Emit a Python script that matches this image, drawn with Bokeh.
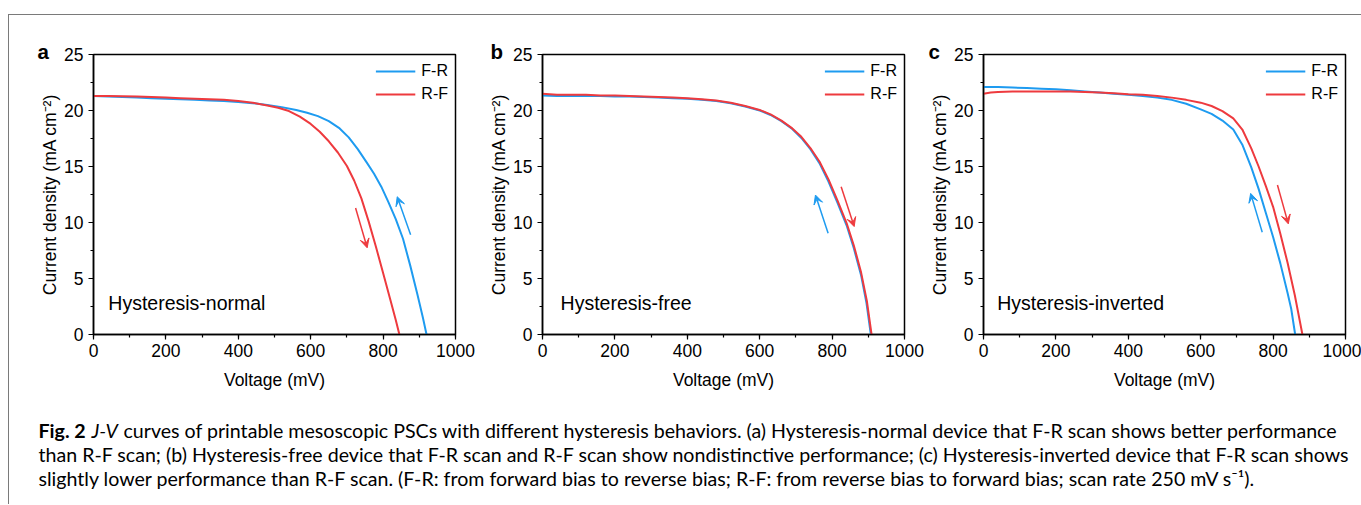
from bokeh.plotting import figure
from bokeh.layouts import row, column
from bokeh.models import (Range1d, SingleIntervalTicker, Legend, LegendItem, Label,
                          Arrow, VeeHead)
from bokeh.embed import file_html
from bokeh.resources import INLINE
from bokeh.core.properties import value

# ---------------- data ----------------
series_names = ["F-R", "R-F"]

# panel a : hysteresis-normal
a_fr_v = [0, 40, 80, 120, 160, 200, 240, 280, 320, 360, 400, 440, 480, 520, 560, 590, 620, 650, 680, 705, 730, 755, 775, 795, 815, 835, 855, 875, 895, 910, 920]
a_fr_j = [21.3, 21.25, 21.2, 21.15, 21.1, 21.05, 21.0, 20.95, 20.9, 20.85, 20.75, 20.65, 20.5, 20.3, 20.05, 19.8, 19.5, 19.05, 18.4, 17.6, 16.55, 15.35, 14.35, 13.2, 11.8, 10.3, 8.55, 6.15, 3.55, 1.5, 0.0]
a_rf_v = [0, 40, 80, 120, 160, 200, 240, 280, 320, 360, 400, 440, 480, 510, 540, 570, 600, 625, 650, 675, 700, 720, 740, 760, 780, 800, 820, 835, 845]
a_rf_j = [21.3, 21.3, 21.28, 21.25, 21.2, 21.15, 21.1, 21.05, 21.0, 20.95, 20.85, 20.7, 20.45, 20.25, 19.95, 19.45, 18.8, 18.1, 17.25, 16.25, 15.05, 13.75, 12.15, 10.1, 7.85, 5.5, 3.1, 1.3, 0.0]

# panel b : hysteresis-free
b_fr_v = [0, 40, 80, 120, 160, 200, 240, 280, 320, 360, 400, 440, 480, 520, 560, 600, 630, 660, 690, 715, 740, 765, 790, 815, 840, 860, 880, 895, 907]
b_fr_j = [21.35, 21.3, 21.3, 21.3, 21.3, 21.25, 21.25, 21.2, 21.15, 21.1, 21.05, 20.95, 20.85, 20.65, 20.35, 20.0, 19.6, 19.05, 18.35, 17.55, 16.55, 15.3, 13.65, 11.75, 9.75, 7.7, 5.3, 2.8, 0.0]
b_rf_v = [0, 40, 80, 120, 160, 200, 240, 280, 320, 360, 400, 440, 480, 520, 560, 600, 630, 660, 690, 715, 740, 765, 790, 815, 840, 860, 880, 896, 909]
b_rf_j = [21.5, 21.4, 21.4, 21.4, 21.35, 21.35, 21.3, 21.25, 21.2, 21.15, 21.1, 21.0, 20.9, 20.7, 20.4, 20.05, 19.65, 19.1, 18.4, 17.65, 16.65, 15.45, 13.85, 11.95, 9.95, 7.95, 5.55, 3.0, 0.0]

# panel c : hysteresis-inverted
c_fr_v = [0, 40, 80, 120, 160, 200, 240, 280, 320, 360, 400, 440, 480, 520, 560, 600, 630, 660, 690, 715, 740, 760, 780, 800, 820, 840, 850, 861]
c_fr_j = [22.1, 22.1, 22.05, 22.0, 21.95, 21.9, 21.8, 21.7, 21.6, 21.5, 21.4, 21.3, 21.15, 20.95, 20.6, 20.1, 19.7, 19.1, 18.3, 16.95, 14.9, 13.0, 10.85, 8.7, 6.35, 3.7, 2.3, 0.0]
c_rf_v = [0, 20, 40, 80, 120, 160, 200, 240, 280, 320, 360, 400, 440, 480, 520, 560, 600, 630, 660, 690, 715, 740, 760, 780, 800, 820, 840, 860, 881]
c_rf_j = [21.5, 21.6, 21.65, 21.7, 21.7, 21.7, 21.7, 21.7, 21.65, 21.6, 21.55, 21.45, 21.4, 21.3, 21.15, 20.95, 20.7, 20.4, 19.95, 19.3, 18.3, 16.6, 15.0, 13.25, 11.4, 9.0, 6.4, 3.5, 0.0]

panel_letters = ["a", "b", "c"]
panel_notes = ["Hysteresis-normal", "Hysteresis-free", "Hysteresis-inverted"]

caption_bold = "Fig. 2"
caption_italic = "J-V"
caption_line1 = "curves of printable mesoscopic PSCs with different hysteresis behaviors. (a) Hysteresis-normal device that F-R scan shows better performance"
caption_line2 = "than R-F scan; (b) Hysteresis-free device that F-R scan and R-F scan show nondistinctive performance; (c) Hysteresis-inverted device that F-R scan shows"
caption_line3 = "slightly lower performance than R-F scan. (F-R: from forward bias to reverse bias; R-F: from reverse bias to forward bias; scan rate 250 mV s\u207b\u00b9)."

# ---------------- style ----------------
BLUE = "#1E9BF0"
RED = "#EE3A3E"
AXF = "Liberation Sans"
CAPF = "Lato"
CAPSIZE = "19.6px"


def make_panel(letter, note, fr_v, fr_j, rf_v, rf_j, arrows, width, left, right, letter_off, note_x):
    p = figure(width=width, height=377, x_range=Range1d(0, 1000), y_range=Range1d(0, 25),
               output_backend="svg", toolbar_location=None,
               min_border_left=left, min_border_right=right, min_border_top=39, min_border_bottom=57)
    p.xgrid.visible = False
    p.ygrid.visible = False
    p.outline_line_color = "black"
    p.outline_line_width = 1.5
    p.outline_line_alpha = 1
    p.background_fill_color = "white"
    p.border_fill_color = "white"

    p.title.text = letter
    p.title.align = "left"
    p.title.offset = letter_off
    p.title.standoff = -16
    p.title.text_font = AXF
    p.title.text_font_size = "20.5px"
    p.title.text_font_style = "bold"
    p.title.text_color = "black"

    p.xaxis.ticker = SingleIntervalTicker(interval=200, num_minor_ticks=2)
    p.yaxis.ticker = SingleIntervalTicker(interval=5, num_minor_ticks=2)
    for ax in (p.xaxis[0], p.yaxis[0]):
        ax.axis_line_width = 1.5
        ax.axis_line_color = "black"
        ax.major_tick_line_width = 1.2
        ax.minor_tick_line_width = 1.2
        ax.major_tick_line_color = "black"
        ax.minor_tick_line_color = "black"
        ax.major_tick_out = 5
        ax.major_tick_in = 0
        ax.minor_tick_out = 3
        ax.minor_tick_in = 0
        ax.major_label_text_font = AXF
        ax.major_label_text_font_size = "17.5px"
        ax.major_label_text_color = "black"
        ax.axis_label_text_font = AXF
        ax.axis_label_text_font_size = "17.5px"
        ax.axis_label_text_font_style = "normal"
        ax.axis_label_text_color = "black"
    p.xaxis.axis_label = "Voltage (mV)"
    p.yaxis.axis_label = "Current density (mA cm\u207b\u00b2)"
    p.xaxis.major_label_standoff = 4
    p.yaxis.major_label_standoff = 5
    p.xaxis.axis_label_standoff = 10
    p.yaxis.axis_label_standoff = 1

    r1 = p.line(fr_v, fr_j, line_color=BLUE, line_width=2, line_join="round")
    r2 = p.line(rf_v, rf_j, line_color=RED, line_width=2, line_join="round")

    leg = Legend(items=[LegendItem(label=series_names[0], renderers=[r1]),
                        LegendItem(label=series_names[1], renderers=[r2])],
                 location="top_right", border_line_color=None, background_fill_alpha=0,
                 label_text_font=AXF, label_text_font_size="16px", label_text_color="black",
                 glyph_width=40, glyph_height=20, label_height=20, spacing=3,
                 margin=7, padding=0, label_standoff=6)
    p.add_layout(leg)

    for (x0, y0, x1, y1, col) in arrows:
        p.add_layout(Arrow(end=VeeHead(size=9, fill_color=col, line_color=col, line_width=1),
                           x_start=x0, y_start=y0, x_end=x1, y_end=y1,
                           line_color=col, line_width=1.5))

    p.add_layout(Label(x=note_x, y=2.85, text=note, text_font=AXF, text_font_size="19.5px",
                       text_baseline="middle", text_color="black"))
    return p


pa = make_panel(panel_letters[0], panel_notes[0], a_fr_v, a_fr_j, a_rf_v, a_rf_j,
                [(724, 11.3, 756, 7.74, RED), (876, 8.9, 839, 12.3, BLUE)],
                466, 84, 20, -56, 41)
pb = make_panel(panel_letters[1], panel_notes[1], b_fr_v, b_fr_j, b_rf_v, b_rf_j,
                [(789, 9.05, 754, 12.45, BLUE), (825, 13.2, 861, 9.64, RED)],
                450, 67, 21, -52, 50)
pc = make_panel(panel_letters[2], panel_notes[2], c_fr_v, c_fr_j, c_rf_v, c_rf_j,
                [(770, 9.13, 738, 12.6, BLUE), (812, 13.35, 842, 9.88, RED)],
                436, 58, 16, -55, 38)

CAP_H = 112
cap = figure(width=1352, height=CAP_H, x_range=Range1d(0, 1352), y_range=Range1d(CAP_H, 0),
             output_backend="svg", toolbar_location=None, min_border=0,
             x_axis_type=None, y_axis_type=None)
cap.xgrid.visible = False
cap.ygrid.visible = False
cap.outline_line_color = None
cap.text(x=[29], y=[38], text=[caption_bold], text_font=value(CAPF), text_font_style="bold",
         text_font_size=CAPSIZE, text_baseline="alphabetic", text_color="black")
cap.text(x=[82], y=[38], text=[caption_italic], text_font=value(CAPF), text_font_style="italic",
         text_font_size=CAPSIZE, text_baseline="alphabetic", text_color="black")
cap.text(x=[114, 29, 29], y=[38, 62, 86], text=[caption_line1, caption_line2, caption_line3],
         text_font=value(CAPF), text_font_size=CAPSIZE, text_baseline="alphabetic", text_color="black")

layout = column(row(pa, pb, pc), cap, margin=(14, 0, 0, 8),
                styles={"border-top": "1px solid #7a7a7a", "border-left": "1px solid #7a7a7a"})

open("out.html", "w").write(file_html(layout, INLINE))
